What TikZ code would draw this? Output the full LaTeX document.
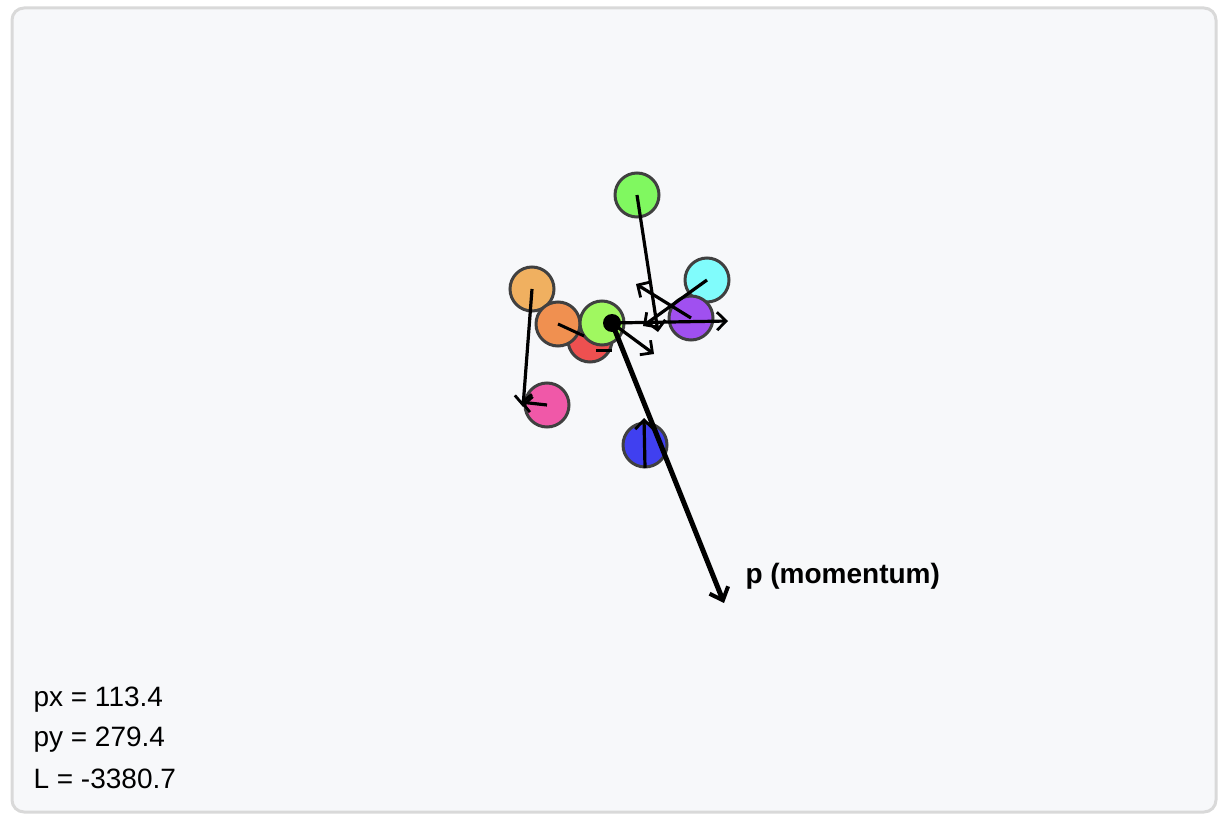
\documentclass[tikz,border=0pt]{standalone}
\usepackage{fontspec}
\setmainfont{Liberation Sans}
\usetikzlibrary{arrows.meta}
\definecolor{panel}{HTML}{F7F8FA}
\definecolor{frame}{HTML}{D9D9D9}
\definecolor{rim}{HTML}{404040}
\tikzset{
  body/.style={circle, minimum size=44pt, inner sep=0pt, draw=rim, line width=3pt},
  vel/.style={line width=3.2pt, -{Straight Barb[length=9pt,width=18pt,line width=2.8pt]}},
  mom/.style={line width=5pt, -{Straight Barb[length=11pt,width=20pt,line width=4pt]}},
  readout/.style={anchor=west, font=\fontsize{28}{32}\selectfont}
}
\begin{document}
\begin{tikzpicture}[x=1pt,y=-1pt]
    \useasboundingbox (0,0) rectangle (1228,826);
    \draw [fill=panel, draw=frame, line width=3pt, rounded corners=12pt] (12,8) rectangle (1216,812);
    % bodies
    \node (b1) [body, fill={rgb,255:red,240;green,176;blue,96}] at (532,289) {};
    \node (b2) [body, fill={rgb,255:red,238;green,80;blue,80}] at (590,340) {};
    \node (b3) [body, fill={rgb,255:red,240;green,144;blue,80}] at (558,324) {};
    \node (b4) [body, fill={rgb,255:red,160;green,248;blue,96}] at (602,323) {};
    \node (b5) [body, fill={rgb,255:red,128;green,248;blue,96}] at (637,195) {};
    \node (b6) [body, fill={rgb,255:red,128;green,252;blue,252}] at (707,280) {};
    \node (b7) [body, fill={rgb,255:red,160;green,80;blue,240}] at (691,318) {};
    \node (b8) [body, fill={rgb,255:red,240;green,88;blue,168}] at (547,405) {};
    \node (b9) [body, fill={rgb,255:red,64;green,64;blue,240}] at (645,445) {};
    \node (cm) [circle, fill=black, minimum size=18pt, inner sep=0pt] at (612,323) {};
    % velocity tips
    \coordinate (v1) at (523,407);
    \coordinate (v2) at (612,350);
    \coordinate (v3) at (584,336);
    \coordinate (v4) at (654,354);
    \coordinate (v5) at (658,332);
    \coordinate (v6) at (643,326);
    \coordinate (v7) at (636,284);
    \coordinate (v8) at (520,402);
    \coordinate (v9) at (644,418);
    \coordinate (vc) at (728,321);
    \coordinate (pm) at (724,603);
    \draw [line width=3pt] (596,350) -- (v2);
    \draw [vel] (b1.center) -- (v1);
    \draw [line width=3pt] (b3.center) -- (v3);
    \draw [vel] (cm.center) -- (v4);
    \draw [vel] (b5.center) -- (v5);
    \draw [vel] (b6.center) -- (v6);
    \draw [vel] (b7.center) -- (v7);
    \draw [vel] (b8.center) -- (v8);
    \draw [vel] (645,468) -- (v9);
    \draw [vel] (cm.center) -- (vc);
    \draw [mom] (cm.center) -- (pm);
    \node (plabel) [anchor=west, font=\bfseries\fontsize{28}{32}\selectfont] at (742,576) {p (momentum)};
    % readouts
    \node (px) [readout] at (30,700) {px = 113.4};
    \node (py) [readout] at (30,740) {py = 279.4};
    \node (ll) [readout] at (30,779) {L = -3380.7};
\end{tikzpicture}
\end{document}
